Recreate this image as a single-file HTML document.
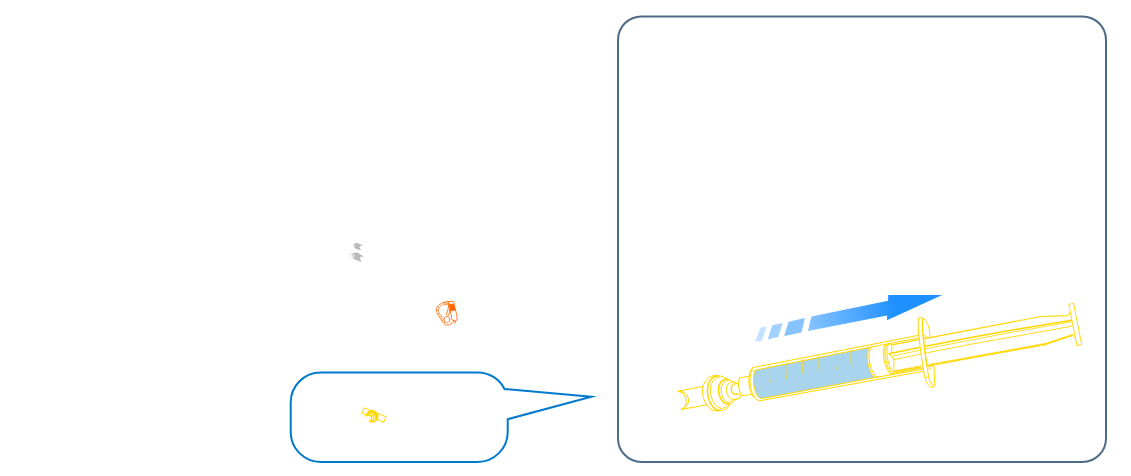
<!DOCTYPE html>
<html lang="en">
<head>
<meta charset="utf-8">
<title>Syringe illustration</title>
<style>
html,body{margin:0;padding:0;background:#fff;}
body{width:1131px;height:476px;overflow:hidden;font-family:"Liberation Sans",sans-serif;}
svg{display:block;}
</style>
</head>
<body>
<svg width="1131" height="476" viewBox="0 0 1131 476" role="img" aria-label="Syringe illustration">
<rect x="618" y="16.4" width="488" height="445.5" rx="23.5" ry="23.5" fill="none" stroke="#4d6b89" stroke-width="2"/>
<path d="M320.7,372.4 H477.7 A30,30 0 0 1 504.5,389 L591.3,396.7 L507.7,419.2 V431.9 A30,30 0 0 1 477.7,461.9 H320.7 A30,30 0 0 1 290.7,431.9 V402.4 A30,30 0 0 1 320.7,372.4 Z" fill="none" stroke="#007acc" stroke-width="2" stroke-miterlimit="12"/>
<defs>
<linearGradient id="ag" gradientUnits="userSpaceOnUse" x1="808" y1="324" x2="896" y2="305.800">
<stop offset="0" stop-color="#86c3ff"/>
<stop offset="1" stop-color="#1e90ff"/>
</linearGradient>
</defs>
<polygon points="755.2,341.8 760.5,327.5 766.8,326.5 761.8,340.7" fill="#c3e2ff"/>
<polygon points="767.6,339.4 772.3,325.2 782.8,322.9 778.1,337.1" fill="#a3d1ff"/>
<polygon points="784.1,335.9 788.6,321.8 804.9,318.1 801.4,332.5" fill="#86c3ff"/>
<polygon points="808,331 811.4,316.6 888.1,300.7 888.1,295.1 942.2,295.1 887,320.2 887,315.4" fill="url(#ag)"/>
<g fill="none" stroke="#ffd700" stroke-width="1" stroke-linecap="round" stroke-linejoin="round">
<path d="M678.3,391.2 L703,386.4 M682,409.3 L706.5,404.9" fill="none" stroke="#ffd700" stroke-width="1" />
<path d="M678.3,391.2 A9.6,9.3 -11 0 1 682,409.3 M678.6,391.6 A7.4,9.1 -11 0 1 682,409" fill="none" stroke="#ffd700" stroke-width="1" />
<path d="M716.08,375.53 L711.23,376.41 L706.82,379.50 L703.73,384.35 L702.41,389.64 L702.85,395.81 L705.05,401.98 L708.58,407.27 L712.99,410.36 L717.40,410.80 L722.69,410.36 L727.10,408.16 L729.57,404.80 L733.27,401.54 L735.92,399.51 L739.45,397.75 L739.45,397.75 L737.86,393.87 L736.80,383.46 L733.71,381.88 L730.63,380.64 L727.10,379.05 L723.57,377.29 L720.05,375.97 Z" fill="#fff" stroke="none" stroke-width="1" />
<path d="M716.08,375.53 C715.27,375.67 712.77,375.75 711.23,376.41 C709.68,377.07 708.07,378.17 706.82,379.50 C705.57,380.82 704.47,382.66 703.73,384.35 C703.00,386.04 702.56,387.73 702.41,389.64 C702.26,391.55 702.41,393.75 702.85,395.81 C703.29,397.87 704.10,400.07 705.05,401.98 C706.01,403.89 707.26,405.88 708.58,407.27 C709.90,408.67 711.52,409.77 712.99,410.36 C714.46,410.95 716.67,410.73 717.40,410.80" fill="none" stroke="#ffd700" stroke-width="1" />
<path d="M717.84,375.79 C716.96,376.12 714.02,376.60 712.55,377.73 C711.08,378.86 709.86,380.60 709.02,382.58 C708.19,384.57 707.67,387.29 707.52,389.64 C707.38,391.99 707.60,394.34 708.14,396.69 C708.68,399.04 709.68,401.76 710.79,403.75 C711.89,405.73 713.29,407.46 714.75,408.60 C716.22,409.73 718.80,410.21 719.60,410.54" fill="none" stroke="#ffd700" stroke-width="1.5" />
<path d="M719.60,376.85 C718.80,377.22 716.08,377.95 714.75,379.05 C713.43,380.16 712.40,381.70 711.67,383.46 C710.93,385.23 710.45,387.58 710.35,389.64 C710.24,391.69 710.54,393.75 711.05,395.81 C711.57,397.87 712.45,400.22 713.43,401.98 C714.42,403.75 715.64,405.29 716.96,406.39 C718.28,407.49 720.63,408.23 721.37,408.60" fill="none" stroke="#ffd700" stroke-width="1" />
<path d="M716.08,375.53 C716.74,375.60 718.80,375.67 720.05,375.97 C721.30,376.26 722.40,376.78 723.57,377.29 C724.75,377.81 725.92,378.50 727.10,379.05 C728.28,379.61 729.53,380.17 730.63,380.64 C731.73,381.11 732.69,381.41 733.71,381.88 C734.74,382.35 736.29,383.20 736.80,383.46" fill="none" stroke="#ffd700" stroke-width="1" />
<path d="M727.10,379.05 C726.37,379.28 723.94,379.50 722.69,380.38 C721.44,381.26 720.31,382.80 719.60,384.35 C718.90,385.89 718.53,387.87 718.46,389.64 C718.39,391.40 718.61,393.16 719.16,394.93 C719.72,396.69 720.78,398.82 721.81,400.22 C722.84,401.61 724.09,402.64 725.34,403.31 C726.59,403.97 728.64,404.04 729.31,404.19" fill="none" stroke="#ffd700" stroke-width="1.6" />
<path d="M728.86,380.20 C728.13,380.52 725.63,381.16 724.46,382.14 C723.28,383.13 722.37,384.71 721.81,386.11 C721.25,387.51 721.07,388.90 721.10,390.52 C721.13,392.14 721.43,394.19 721.99,395.81 C722.54,397.43 723.38,399.12 724.46,400.22 C725.53,401.32 727.76,402.06 728.42,402.42" fill="none" stroke="#ffd700" stroke-width="1" />
<path d="M717.40,410.80 C718.28,410.73 721.07,410.80 722.69,410.36 C724.31,409.92 725.95,409.08 727.10,408.16 C728.25,407.23 728.54,405.91 729.57,404.80 C730.60,403.70 732.22,402.42 733.27,401.54 C734.33,400.66 734.89,400.15 735.92,399.51 C736.95,398.88 738.86,398.04 739.45,397.75" fill="none" stroke="#ffd700" stroke-width="1" />
<path d="M733.71,381.88 C732.98,382.07 730.48,382.17 729.31,383.02 C728.13,383.88 727.14,385.59 726.66,386.99 C726.17,388.39 726.17,389.93 726.40,391.40 C726.62,392.87 727.13,394.56 727.98,395.81 C728.83,397.06 730.26,398.28 731.51,398.90 C732.76,399.51 734.82,399.41 735.48,399.51" fill="none" stroke="#ffd700" stroke-width="1" />
<path d="M736.80,383.46 C736.21,383.61 734.16,383.68 733.27,384.35 C732.39,385.01 731.73,386.18 731.51,387.43 C731.29,388.68 731.51,390.74 731.95,391.84 C732.39,392.94 733.17,393.71 734.16,394.05 C735.14,394.38 737.24,393.90 737.86,393.87" fill="none" stroke="#ffd700" stroke-width="1.3" />
<path d="M737.86,393.87 C738.30,394.16 740.24,394.93 740.50,395.63 C740.77,396.34 740.21,397.46 739.45,398.10 C738.68,398.75 736.51,399.28 735.92,399.51" fill="none" stroke="#ffd700" stroke-width="1" />
<path d="M721.37,408.60 C722.18,408.30 724.94,407.52 726.22,406.83 C727.50,406.14 728.57,404.85 729.04,404.45" fill="none" stroke="#ffd700" stroke-width="0.8" />
<path d="M728.42,402.42 C729.08,402.14 731.22,401.41 732.39,400.75 C733.57,400.09 734.96,398.84 735.48,398.46" fill="none" stroke="#ffd700" stroke-width="0.8" />
<path d="M739.4,378 L749.3,376.2 L752.3,394.4 L741.6,395.7 Q739.6,392.5 738.6,387 Q737.6,381.5 739.4,378 Z" fill="#fff" stroke="#ffd700" stroke-width="1" />
<path d="M920,334.99 L754.96,367.23 L754.96,367.23 C754.59,367.33 753.42,367.51 752.75,367.85 C752.09,368.19 751.49,368.36 750.99,369.26 C750.49,370.16 750.11,371.54 749.76,373.23 C749.40,374.92 748.96,377.20 748.87,379.40 C748.79,381.60 748.87,384.25 749.23,386.46 C749.58,388.66 750.26,390.86 750.99,392.63 C751.73,394.39 752.61,395.83 753.64,397.04 C754.67,398.24 756.58,399.39 757.16,399.86 Q758.8,400.9 762,400.34 L925,371.00" fill="#fff" stroke="#ffd700" stroke-width="1" />
<path d="M752.31,369.52 C752.06,370.14 751.18,371.58 750.81,373.23 C750.45,374.87 750.15,377.20 750.11,379.40 C750.07,381.60 750.18,384.25 750.55,386.46 C750.92,388.66 751.62,390.89 752.31,392.63 C753.00,394.36 754.30,396.16 754.69,396.86" fill="none" stroke="#ffd700" stroke-width="1" />
<path d="M869.5,347.4 L754.69,370.32 L754.69,370.32 C754.59,370.80 754.28,371.57 754.08,373.23 C753.87,374.89 753.46,378.08 753.46,380.28 C753.46,382.49 753.68,384.40 754.08,386.46 C754.47,388.51 755.11,390.86 755.84,392.63 C756.58,394.39 757.53,396.05 758.49,397.04 C759.44,398.02 761.06,398.29 761.57,398.54 L875.6,377.4 A5.2,15.4 -11.4 0 1 869.5,347.4 Z" fill="#a8d4ee" stroke="#ffd700" stroke-width="1" />
<path d="M869.5,347.4 L918.5,337.98 M875.6,377.4 L923.5,369.08" fill="none" stroke="#ffd700" stroke-width="1" />
<path d="M769.4,366.00 L769.4,377.00 Q769.5,380.00 770.3,381.80" fill="none" stroke="#f2d22e" stroke-width="0.95" />
<path d="M785.9,362.77 L785.9,373.77 Q786.0,376.77 786.8,378.57" fill="none" stroke="#f2d22e" stroke-width="0.95" />
<path d="M802.7,359.48 L802.7,370.48 Q802.8000000000001,373.48 803.6,375.28" fill="none" stroke="#f2d22e" stroke-width="0.95" />
<path d="M819,356.28 L819,367.28 Q819.1,370.28 819.9,372.08" fill="none" stroke="#f2d22e" stroke-width="0.95" />
<path d="M835.5,353.05 L835.5,364.05 Q835.6,367.05 836.4,368.85" fill="none" stroke="#f2d22e" stroke-width="0.95" />
<path d="M851,350.01 L851,361.01 Q851.1,364.01 851.9,365.81" fill="none" stroke="#f2d22e" stroke-width="0.95" />
<path d="M871.5,347.0 A5.2,15.2 -11.4 0 0 878.2,376.9" fill="none" stroke="#ffd700" stroke-width="1" />
<path d="M886.4,344.2 A5.2,15.4 -11.4 0 0 891.4,374.4" fill="none" stroke="#ffd700" stroke-width="1" />
<path d="M888.4,344.0 A5.0,15.0 -11.4 0 0 893.0,374.0" fill="none" stroke="#ffd700" stroke-width="1" />
<path d="M890.4,343.8 A4.8,14.6 -11.4 0 0 894.6,373.4" fill="none" stroke="#ffd700" stroke-width="1" />
<path d="M891.76,344.81 L891.76,353.74 M889.13,353.74 L893.86,358.99 L893.86,370.23" fill="none" stroke="#ffd700" stroke-width="1" />
<path d="M891.8,344.81 L1041,316.5 L1067.3,315.6 Q1069.3,315.4 1069.8,313.2" fill="none" stroke="#ffd700" stroke-width="1.2" />
<path d="M889.1,353.7 L895,352.4 L919.2,347.5 L924.2,346.5 L976,336.5 L1020,328.7 L1071.6,320.3" fill="none" stroke="#ffd700" stroke-width="1.5" />
<path d="M891.5,356.3 L895,355.5 L919.7,350.3 L924.2,349.1 L976,339.1 L1020,330.8 L1071.8,321.8" fill="none" stroke="#ffd700" stroke-width="0.8" />
<path d="M893.9,359.6 L895,359.4 L920.2,354.2 L924.2,353.3 L976,343.3 L1020,335.5 L1072.4,326.1" fill="none" stroke="#ffd700" stroke-width="0.9" />
<path d="M893.20,372.44 L896.60,370.44 M896.28,371.88 L899.68,369.88 M899.36,371.32 L902.76,369.32 M902.44,370.76 L905.84,368.76 M905.52,370.20 L908.92,368.20 M908.60,369.64 L912.00,367.64 M911.68,369.08 L915.08,367.08 M914.76,368.52 L918.16,366.52 M917.84,367.96 L921.24,365.96 M927.08,366.28 L930.48,364.28 M930.16,365.72 L933.56,363.72 M933.23,365.16 L936.63,363.16 M936.31,364.60 L939.71,362.60 M939.39,364.04 L942.79,362.04 M942.47,363.48 L945.87,361.48 M945.55,362.92 L948.95,360.92 M948.63,362.36 L952.03,360.36 M951.71,361.80 L955.11,359.80 M954.79,361.24 L958.19,359.24 M957.87,360.68 L961.27,358.68 M960.95,360.12 L964.35,358.12 M964.03,359.56 L967.43,357.56 M967.11,359.00 L970.51,357.00 M970.19,358.44 L973.59,356.44 M973.27,357.88 L976.67,355.88 M976.35,357.32 L979.75,355.32 M979.43,356.76 L982.83,354.76 M982.51,356.20 L985.91,354.20 M985.59,355.64 L988.99,353.64 M988.67,355.08 L992.07,353.08 M991.75,354.52 L995.15,352.52 M994.83,353.96 L998.23,351.96 M997.91,353.40 L1001.31,351.40 M1000.99,352.84 L1004.39,350.84 M1004.07,352.28 L1007.47,350.28 M1007.14,351.72 L1010.54,349.72 M1010.22,351.16 L1013.62,349.16 M1013.30,350.60 L1016.70,348.60 M1016.38,350.04 L1019.78,348.04 M1019.46,349.48 L1022.86,347.48 M1022.54,348.92 L1025.94,346.92 M1025.62,348.36 L1029.02,346.36 M1028.70,347.80 L1032.10,345.80 M1031.78,347.24 L1035.18,345.24 M1034.86,346.68 L1038.26,344.68 M1037.94,346.12 L1041.34,344.12 M1041.02,345.56 L1044.42,343.56 M1044.10,345.00 L1047.50,343.00 M1047.26,343.94 L1050.66,341.94 M1050.41,342.89 L1053.81,340.89 M1053.57,341.83 L1056.97,339.83 M1056.72,340.78 L1060.12,338.78 M1059.88,339.72 L1063.28,337.72 M1063.03,338.67 L1066.43,336.67 M1066.19,337.61 L1069.59,335.61 M1069.34,336.56 L1072.74,334.56 " fill="none" stroke="#ffd700" stroke-width="1.5" stroke-linecap="butt"/>
<path d="M896.5,372.74 L922.8,367.76" fill="none" stroke="#ffd700" stroke-width="0.9" />
<path d="M894.9,370.54 L919.5,366.06 M927,364.70 L1045.8,343.10 L1072.6,334.10" fill="none" stroke="#ffd700" stroke-width="0.25" />
<path d="M894.9,372.34 L919.5,367.86 M927,366.50 L1045.8,344.90 L1072.0,335.90 L1076.4,338.4" fill="none" stroke="#ffd700" stroke-width="0.25" />
<path d="M918.28,319.24 C918.31,321.20 918.07,325.88 918.45,331.01 C918.82,336.13 919.78,344.03 920.55,350.00 C921.32,355.97 922.32,362.18 923.07,366.81 C923.81,371.43 924.37,375.07 925.00,377.73 C925.63,380.39 925.98,381.23 926.85,382.77 C927.72,384.31 929.65,386.27 930.21,386.97 L934.41,386.97 Q935.08,386.81 934.83,385.29 L933.99,365.97 L927.02,365.80 L922.65,331.01 L922.39,319.24 Q922.23,317.39 920.29,317.23 Q918.28,317.39 918.28,319.24 Z" fill="#fff" stroke="#ffd700" stroke-width="1" />
<path d="M922.39,319.24 C922.44,321.20 922.30,325.88 922.65,331.01 C923.00,336.13 923.77,344.03 924.50,350.00 C925.22,355.97 926.27,362.18 927.02,366.81 C927.76,371.43 928.42,375.21 928.95,377.73 C929.48,380.25 929.51,380.67 930.21,381.93 C930.91,383.19 932.66,384.73 933.15,385.29" fill="none" stroke="#ffd700" stroke-width="1" />
<path d="M922.65,317.73 C923.14,318.19 924.75,319.41 925.59,320.50 C926.43,321.60 927.09,322.89 927.69,324.29 C928.29,325.69 928.87,327.37 929.20,328.91 C929.54,330.45 929.64,332.10 929.71,333.53 C929.78,334.96 929.64,336.82 929.62,337.48" fill="none" stroke="#ffd700" stroke-width="1" />
<path d="M925.00,377.48 L928.95,377.31" fill="none" stroke="#ffd700" stroke-width="0.8" />
<ellipse cx="924.8" cy="337.0" rx="1.4" ry="1.5" transform="rotate(0 924.8 337.0)" fill="none" stroke="#ffd700" stroke-width="0.8" />
<ellipse cx="930.2" cy="367.9" rx="1.3" ry="1.7" transform="rotate(0 930.2 367.9)" fill="none" stroke="#ffd700" stroke-width="0.8" />
<path d="M1069.2,304.4 L1073.5,303.3 L1081.7,344.7 L1077.3,345.5 Z" fill="#fff" stroke="#ffd700" stroke-width="0.9" />
<path d="M1072.6,335.2 Q1074.6,336.0 1075.6,338.6" fill="none" stroke="#ffd700" stroke-width="0.8" />
</g>
<g fill="none" stroke="#b2b2b2" stroke-width="0.7">
<path d="M353.6,245.6 Q353.4,243.6 355.6,243.3 L357.6,243.2 L362.4,245.4 L359.2,246.2 L360.8,250.3 L356.2,248.9 Q353.9,247.8 353.6,245.600 Z" fill="#bdbdbd" stroke="none"/>
<path d="M355.4,243.4 L362.2,245.4 M356.400,245 L360.200,246.4 M355,246.600 L360.600,250"/>
<ellipse cx="355.3" cy="245.8" rx="0.7" ry="1.3" fill="#e4e4e4" stroke="#b2b2b2" stroke-width="0.5" transform="rotate(-20 355.3 245.8)"/>
<path d="M353.2,253.2 L357.2,252.4 L363.3,256.4 L359.6,256.9 L361.2,261.6 L356.4,259.8 L353.4,258.4 Z" fill="#bdbdbd" stroke="none"/>
<path d="M353.600,252.800 L363.200,256.400 M355.400,255.600 L360.400,257.400 M353.400,258.400 L361.200,261.600 M350.600,253.600 L350.400,255 M350.800,257.400 L350.600,258.400"/>
<ellipse cx="353.7" cy="255.7" rx="1.1" ry="2.4" fill="#f4f4f4" stroke="#b2b2b2" stroke-width="0.7" transform="rotate(-18 353.7 255.7)"/>
</g>
<g fill="none" stroke="#ff6600" stroke-width="0.9" stroke-linejoin="round" stroke-linecap="round">
<path d="M443.43,302.29 C442.71,302.73 440.31,303.89 439.14,304.93 C437.98,305.96 436.79,307.25 436.43,308.50 C436.07,309.75 436.31,310.70 437.00,312.43 C437.69,314.15 439.26,316.89 440.57,318.86 C441.88,320.82 443.55,323.20 444.86,324.21 C446.17,325.23 447.12,325.17 448.43,324.93 C449.74,324.69 451.86,323.54 452.71,322.79 C453.57,322.04 453.43,320.82 453.57,320.43" fill="none" stroke="#ff6600" stroke-width="0.85" />
<path d="M443.79,304.00 C443.15,304.45 440.89,305.85 440.00,306.71 C439.11,307.58 438.61,308.32 438.43,309.21 C438.25,310.11 438.31,310.70 438.93,312.07 C439.55,313.44 441.08,315.85 442.14,317.43 C443.20,319.01 444.76,320.88 445.29,321.57" fill="none" stroke="#ff6600" stroke-width="0.6" />
<path d="M437.71,306.71 L439.14,307.43 M436.86,310.29 L438.57,310.64 M438.07,314.21 L439.50,313.50 M439.86,317.43 L441.29,316.71 M442.00,320.64 L443.29,319.57 M443.79,322.79 L445.00,321.86 " fill="none" stroke="#ff6600" stroke-width="0.6" />
<polygon points="448.86,304.29 454.36,304.14 455.50,310.36 450.07,310.86" fill="#ff6600" stroke="#ff6600" stroke-width="0.6"/>
<path d="M443.43,302.29 L448.57,301.57 L453.29,301.29 L454.29,303.71" fill="none" stroke="#ff6600" stroke-width="0.9" />
<path d="M448.57,301.57 L448.79,303.86" fill="none" stroke="#ff6600" stroke-width="0.9" />
<polygon points="444.86,303.00 447.36,302.79 447.57,304.57 445.07,304.79" fill="#fff" stroke="#ff6600" stroke-width="0.7"/>
<path d="M455.43,309.93 C455.63,310.70 456.36,313.08 456.64,314.57 C456.93,316.06 457.20,317.85 457.14,318.86 C457.08,319.87 456.61,320.29 456.29,320.64 C455.96,321.00 455.43,320.61 455.21,321.00 C455.00,321.39 455.04,322.67 455.00,323.00" fill="none" stroke="#ff6600" stroke-width="0.9" />
<path d="M450.00,310.43 C450.19,311.12 450.81,313.05 451.14,314.57 C451.48,316.10 451.62,318.60 452.00,319.57 C452.38,320.55 452.89,320.19 453.43,320.43 C453.96,320.67 454.92,320.90 455.21,321.00" fill="none" stroke="#ff6600" stroke-width="0.9" />
<path d="M448.79,303.86 C448.67,304.69 448.49,307.05 448.07,308.86 C447.65,310.67 446.58,313.74 446.29,314.71" fill="none" stroke="#ff6600" stroke-width="0.9" />
<path d="M449.86,310.43 C449.70,311.00 449.31,312.83 448.93,313.86 C448.55,314.88 447.80,316.12 447.57,316.57" fill="none" stroke="#ff6600" stroke-width="0.8" />
<ellipse cx="447.00" cy="319.57" rx="2.9" ry="3.0" fill="#fff" stroke="#ff6600" stroke-width="0.7"/>
</g>
<g fill="none" stroke="#ffd700" stroke-width="0.9">
<g transform="translate(374 415) rotate(22.5)">
<path d="M-11.800,-2.900 L11.800,-2.900 L11.800,2.900 L-11.800,2.900 Z" fill="#fff"/>
<ellipse cx="-1.2" cy="1.9" rx="6.1" ry="6.0" fill="#ffd700" stroke="#ffd700" stroke-width="0.6"/>
<ellipse cx="-3.9" cy="5.2" rx="2.5" ry="2.5" fill="#fff" stroke="none"/>
<path d="M-4.6,0.900 A4.300,4.300 0 0 1 0.400,5.600" stroke="#fff" stroke-width="0.8"/>
<path d="M-3.800,-1.300 A6.400,6.400 0 0 1 2.600,4.800" stroke="#fff" stroke-width="0.7"/>
</g></g>
</svg>
</body>
</html>
